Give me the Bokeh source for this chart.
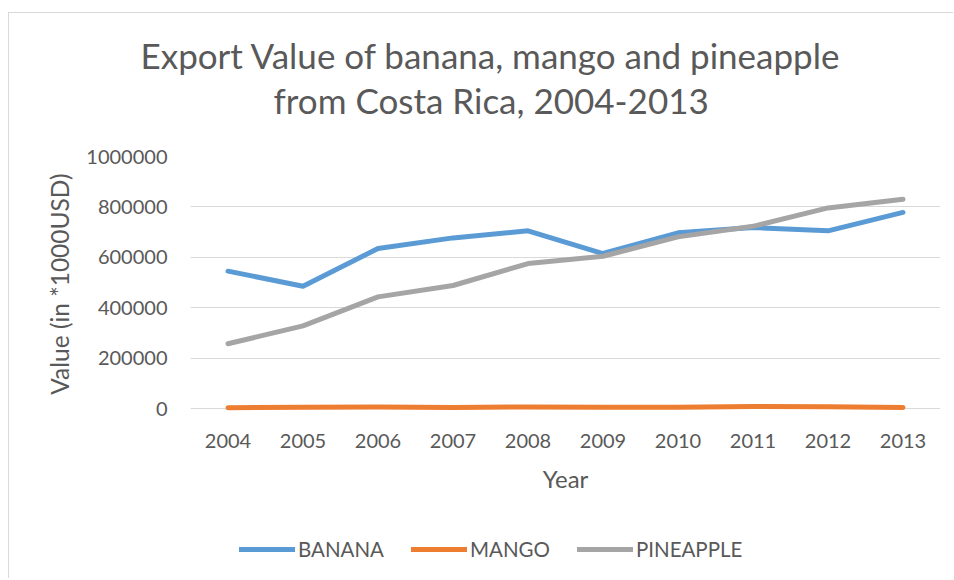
from bokeh.plotting import figure
from bokeh.models import (Range1d, FactorRange, Title, Legend, LegendItem,
                          FixedTicker, BasicTickFormatter)
from bokeh.embed import file_html
from bokeh.resources import INLINE

years = ["2004", "2005", "2006", "2007", "2008", "2009", "2010", "2011", "2012", "2013"]
banana = [545000, 485000, 635000, 677000, 705000, 615000, 697000, 718000, 705000, 778000]
mango = [3000, 5000, 6000, 4000, 6000, 5000, 5000, 8000, 7000, 4000]
pineapple = [257000, 328000, 443000, 488000, 575000, 604000, 681000, 723000, 796000, 830000]
y_ticks = [0, 200000, 400000, 600000, 800000, 1000000]

FONT = "Lato"
TXT = "#595959"

# layout geometry (pixels inside the figure)
W, H = 945, 566
FRAME_TOP, BORDER_BOTTOM = 143, 4
ZERO_PX, TOP_PX = 395, 143          # pixel rows of value 0 and value 1,000,000
frame_bottom = H - BORDER_BOTTOM
y_max = y_ticks[-1]
y_min = -(frame_bottom - ZERO_PX) / (ZERO_PX - TOP_PX) * y_max

p = figure(width=W, height=H, output_backend="svg", toolbar_location=None,
           x_range=FactorRange(factors=years, range_padding=0),
           y_range=Range1d(y_min, y_max),
           min_border_left=181, min_border_right=14,
           min_border_top=FRAME_TOP, min_border_bottom=BORDER_BOTTOM)
p.styles = {"margin-left": "8px", "margin-top": "12px",
            "border-left": "1px solid #D9D9D9", "border-top": "1px solid #D9D9D9"}
p.outline_line_color = None
p.background_fill_color = "white"
p.border_fill_color = "white"

colors = {"BANANA": "#5B9BD5", "MANGO": "#ED7D31", "PINEAPPLE": "#A5A5A5"}
renderers = []
for name, vals in [("BANANA", banana), ("MANGO", mango), ("PINEAPPLE", pineapple)]:
    r = p.line(years, vals, line_color=colors[name], line_width=5,
               line_cap="round", line_join="round")
    renderers.append((name, r))

# y axis
p.yaxis.ticker = FixedTicker(ticks=y_ticks)
p.yaxis.formatter = BasicTickFormatter(use_scientific=False)
p.yaxis.axis_line_color = None
p.yaxis.major_tick_line_color = None
p.yaxis.minor_tick_line_color = None
p.yaxis.major_tick_out = 0
p.yaxis.major_tick_in = 0
p.yaxis.major_label_standoff = 23
p.yaxis.major_label_text_font = FONT
p.yaxis.major_label_text_font_size = "20px"
p.yaxis.major_label_text_color = TXT

ylab = Title(text="Value (in *1000USD)", align="right", offset=17, standoff=20,
             text_font=FONT, text_font_size="24.5px", text_font_style="normal",
             text_color=TXT)
p.add_layout(ylab, "left")

# x axis, pinned at value 0
p.xaxis.fixed_location = 0
p.xaxis.axis_line_color = None
p.xaxis.major_tick_line_color = None
p.xaxis.minor_tick_line_color = None
p.xaxis.major_tick_out = 0
p.xaxis.major_tick_in = 0
p.xaxis.major_label_standoff = 25
p.xaxis.major_label_text_font = FONT
p.xaxis.major_label_text_font_size = "20px"
p.xaxis.major_label_text_color = TXT
p.xaxis.axis_label = "Year"
p.xaxis.axis_label_text_font = FONT
p.xaxis.axis_label_text_font_size = "24px"
p.xaxis.axis_label_text_font_style = "normal"
p.xaxis.axis_label_text_color = TXT
p.xaxis.axis_label_standoff = 13

p.xgrid.grid_line_color = None
p.ygrid.grid_line_color = "#D9D9D9"
p.ygrid.grid_line_width = 1

# titles (second line added first so it sits closest to the plot)
t2 = Title(text="from  Costa Rica, 2004-2013", align="left", offset=83,
           standoff=71, text_font=FONT, text_font_size="35px",
           text_font_style="normal", text_color=TXT)
t1 = Title(text="Export Value of banana, mango and pineapple", align="left",
           offset=-50, standoff=-69, text_font=FONT, text_font_size="35px",
           text_font_style="normal", text_color=TXT)
p.add_layout(t2, "above")
p.add_layout(t1, "above")

legend = Legend(items=[LegendItem(label=n, renderers=[r]) for n, r in renderers],
                orientation="horizontal", location=(49, 14),
                glyph_width=56, glyph_height=20, label_standoff=3, spacing=27,
                padding=0, margin=0, border_line_color=None,
                background_fill_alpha=0,
                label_text_font=FONT, label_text_font_size="20.5px",
                label_text_color=TXT)
p.add_layout(legend, "center")

open("out.html", "w").write(file_html(p, INLINE))
